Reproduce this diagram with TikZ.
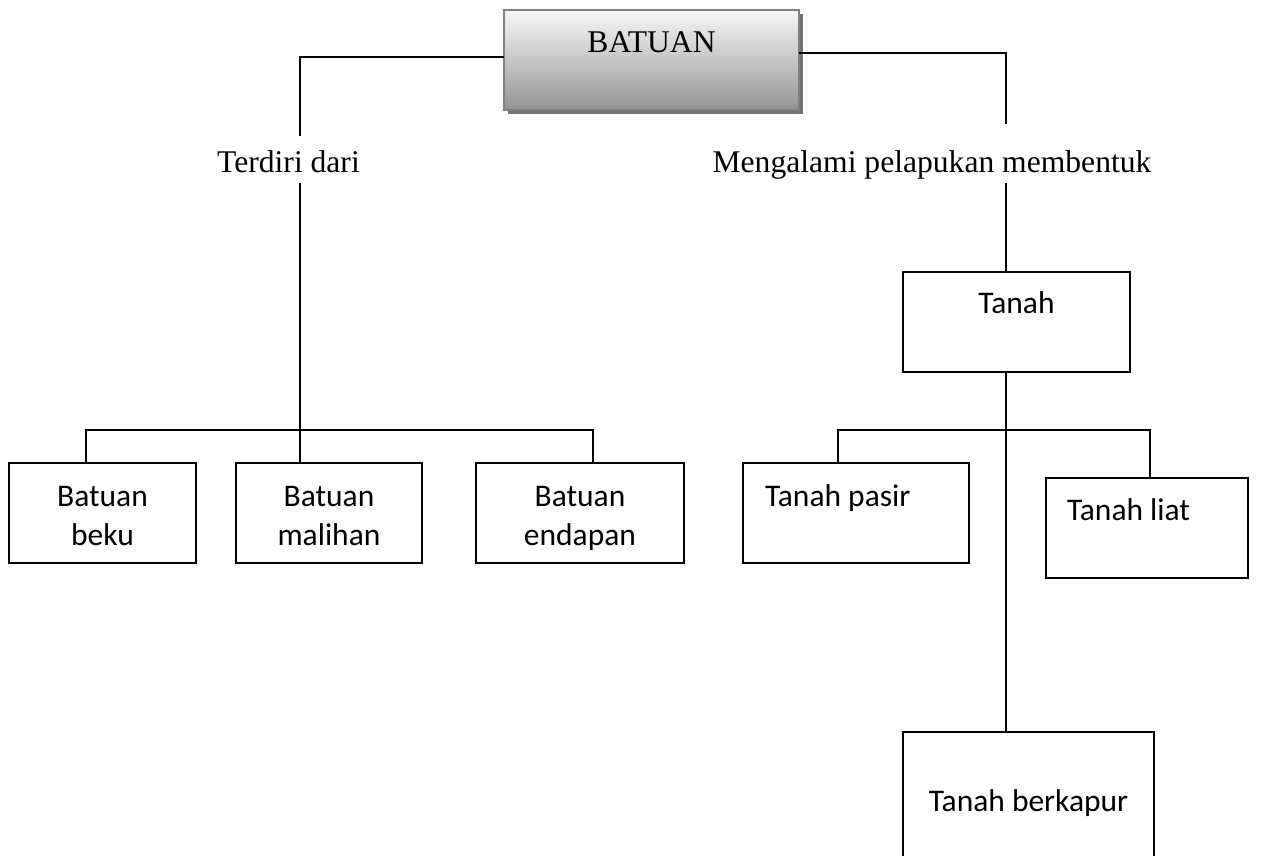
\documentclass[tikz,border=0pt]{standalone}
\usepackage{fontspec}
\setmainfont{Liberation Serif}
\newfontfamily\lblfont{Carlito}
\usetikzlibrary{shadows,calc}

\begin{document}
\begin{tikzpicture}[x=1pt,y=-1pt,
  wire/.style={draw=black,line width=2pt},
  serifbig/.style={font=\fontsize{31.6pt}{38pt}\selectfont, inner sep=0pt, outer sep=0pt},
  topbox/.style={draw=black!50, line width=2pt, inner sep=0pt, outer sep=0pt,
    top color=black!3, bottom color=black!42,
    drop shadow={shadow xshift=4pt, shadow yshift=-4pt, fill=black!55, opacity=1},
    font=\fontsize{31.6pt}{38pt}\selectfont},
  box/.style={draw=black, fill=white, line width=2pt, inner sep=0pt, outer sep=0pt,
    font=\lblfont\fontsize{31.5pt}{39pt}\selectfont},
  twoline/.style={box, align=center, text height=82pt, text depth=18pt},
]
\useasboundingbox (0,0) rectangle (1278,855);
\begin{scope}
\clip (0,0) rectangle (1278,855);

% top node
\node[topbox, minimum width=295pt, minimum height=100pt, text height=42pt, text depth=58pt]
  (batuan) at (651.5,60) {BATUAN};

% branch labels
\node[serifbig, anchor=base, text height=36pt, text depth=11pt] (terdiri) at (288.5,172) {Terdiri dari};
\node[serifbig, anchor=base, text height=48pt, text depth=11pt] (mengalami) at (932,172) {Mengalami pelapukan membentuk};

% rock types
\node[twoline, minimum width=187pt] (b1) at (102.5,513) {Batuan\\beku};
\node[twoline, minimum width=186pt] (b2) at (329,513) {Batuan\\malihan};
\node[twoline, minimum width=208pt] (b3) at (580,513) {Batuan\\endapan};

% soil
\node[box, minimum width=227pt, text height=41pt, text depth=59pt] (tanah) at (1016.5,322) {Tanah};
\node[box, inner xsep=22pt, text height=43pt, text depth=57pt] (pasir) at (856,513) {\makebox[182pt][l]{Tanah pasir}};
\node[box, inner xsep=21pt, text height=42pt, text depth=58pt] (liat) at (1147,528) {\makebox[160pt][l]{Tanah liat}};
\node[box, minimum width=251pt, text height=79pt, text depth=71pt] (berkapur) at (1028.5,807) {Tanah berkapur};

% connector columns and bus points
\coordinate (lx) at (300,0);
\coordinate (rx) at (1006,0);
\coordinate (lb1) at (86,430);
\coordinate (lb3) at (593,430);
\coordinate (rb1) at (838,430);
\coordinate (rb2) at (1150,430);

\draw[wire] ($(batuan.west)+(0,-3)$) -| (lx |- terdiri.north);
\draw[wire] ($(batuan.east)+(0,-7)$) -| (rx |- mengalami.north);
\draw[wire] (lx |- terdiri.south) -- (lx |- b2.north);
\draw[wire] (lb1 |- b1.north) -- (lb1) -- (lb3) -- (lb3 |- b3.north);
\draw[wire] (rx |- mengalami.south) -- (rx |- tanah.north);
\draw[wire] (rx |- tanah.south) -- (rx |- berkapur.north);
\draw[wire] (rb1 |- pasir.north) -- (rb1) -- (rb2) -- (rb2 |- liat.north);
\end{scope}
\end{tikzpicture}
\end{document}
